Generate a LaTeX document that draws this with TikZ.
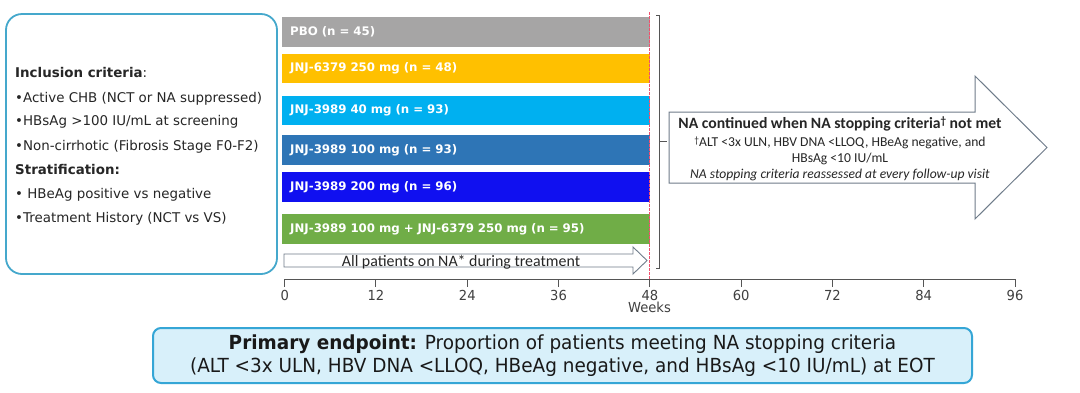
\documentclass[tikz,border=0pt]{standalone}
\usepackage{fontspec}
\setmainfont{DejaVu Sans}
\newfontfamily\verd{DejaVu Sans}
\newfontfamily\tah[FakeStretch=0.95]{DejaVu Sans}
\newfontfamily\calib{Carlito}
\definecolor{cgray}{HTML}{A6A5A5}
\definecolor{cyellow}{HTML}{FFC000}
\definecolor{clblue}{HTML}{00B0F0}
\definecolor{cmblue}{HTML}{2E75B6}
\definecolor{cblue}{HTML}{1010F0}
\definecolor{cgreen}{HTML}{70AD47}
\definecolor{boxline}{HTML}{45A8CC}
\definecolor{endfill}{HTML}{D8F0FA}
\definecolor{endline}{HTML}{35A6D6}
\definecolor{arrline}{HTML}{6F7C8A}
\definecolor{axisc}{HTML}{555555}
\definecolor{redd}{HTML}{F0506E}
\begin{document}
\begin{tikzpicture}[x=1pt,y=-1pt,
  bar/.style={anchor=north west, minimum height=29.5pt, text width=352pt, inner xsep=8pt, inner ysep=0pt, align=left, text=white, font=\verd\bfseries\fontsize{11.8}{13}\selectfont},
  crit/.style={anchor=base west, inner sep=0pt, font=\verd\fontsize{13.4}{15}\selectfont, text=black!85},
  tick/.style={anchor=base, inner sep=0pt, font=\tah\fontsize{13.8}{15}\selectfont, text=black!75},
  arrtxt/.style={anchor=base, inner sep=0pt, font=\calib\fontsize{13.6}{15}\selectfont, text=black!85},
  arrshape/.style={draw=arrline, line width=1pt, fill=white, line join=miter}
]
\useasboundingbox (0,0) rectangle (1080,392);
\fill[white] (0,0) rectangle (1080,392);

% left inclusion box
\draw[boxline, line width=1.8pt, rounded corners=16pt] (6,14) rectangle (277,274);
\node[crit, font=\verd\bfseries\fontsize{13.4}{15}\selectfont] (inc) at (15,77) {Inclusion criteria\mdseries:};
\node[crit] (c1) at (15,102) {•Active CHB (NCT or NA suppressed)};
\node[crit] (c2) at (15,125.5) {•HBsAg >100 IU/mL at screening};
\node[crit] (c3) at (15,150) {•Non-cirrhotic (Fibrosis Stage F0-F2)};
\node[crit, font=\verd\bfseries\fontsize{13.4}{15}\selectfont] (str) at (15,174) {Stratification:};
\node[crit] (s1) at (15,198) {• HBeAg positive vs negative};
\node[crit] (s2) at (15,222.5) {•Treatment History (NCT vs VS)};

% bars
\node[bar, fill=cgray] (pbo) at (282,17) {PBO (n = 45)};
\node[bar, fill=cyellow] (b6379) at (282,53.5) {JNJ-6379 250 mg (n = 48)};
\node[bar, fill=clblue] (b40) at (282,95.5) {JNJ-3989 40 mg (n = 93)};
\node[bar, fill=cmblue] (b100) at (282,135) {JNJ-3989 100 mg (n = 93)};
\node[bar, fill=cblue] (b200) at (282,172) {JNJ-3989 200 mg (n = 96)};
\node[bar, fill=cgreen] (bcombo) at (282,214) {JNJ-3989 100 mg + JNJ-6379 250 mg (n = 95)};

% small arrow: all patients on NA
\draw[arrshape, line width=0.9pt] (284,254) -- (633,254) -- (633,247) -- (647,260.5) -- (633,274) -- (633,267) -- (284,267) -- cycle;
\node[anchor=base, inner sep=0pt, font=\calib\fontsize{15.9}{17}\selectfont, text=black!85] (allna) at (461,266) {All patients on NA* during treatment};

% red dashed line at week 48
\draw[redd, line width=0.9pt, dash pattern=on 2.5pt off 1.5pt] (649.5,12) -- (649.5,286);

% bracket
\draw[axisc, line width=0.9pt] (656,15) -- (659.5,15) -- (659.5,268) -- (656,268);
\coordinate (brmid) at (659.5,141);

% big arrow
\draw[arrshape] (669,112) -- (975,112) -- (975,76) -- (1047,147.5) -- (975,219) -- (975,183) -- (669,183) -- cycle;
\coordinate (bigw) at (669,141);
\draw[axisc, line width=0.9pt] (brmid) -- ([xshift=-2.5pt]bigw);
\node[arrtxt, font=\calib\bfseries\fontsize{15.7}{17}\selectfont] (t1) at (840,128.5) {NA continued when NA stopping criteria{\fontsize{11}{12}\selectfont\raisebox{4pt}{†}} not met};
\node[arrtxt] (t2) at (840,146.5) {{\fontsize{9.5}{10}\selectfont\raisebox{3pt}{†}}ALT <3x ULN, HBV DNA <LLOQ, HBeAg negative, and};
\node[arrtxt] (t3) at (840,162.5) {HBsAg <10 IU/mL};
\node[arrtxt, font=\calib\itshape\fontsize{13.6}{15}\selectfont] (t4) at (840,178.5) {NA stopping criteria reassessed at every follow-up visit};

% axis
\draw[axisc, line width=1pt] (284.7,279) -- (1015,279);
\foreach \w [count=\i from 0] in {0,12,24,36,48,60,72,84,96} {
  \draw[axisc, line width=1pt] ({284.7+\i*91.29},279) -- ({284.7+\i*91.29},287);
  \node[tick] (lab\w) at ({284.7+\i*91.29},300) {\w};
}
\node[tick] (weeks) at (649.5,312.5) {Weeks};

% primary endpoint box
\node[draw=endline, fill=endfill, line width=2pt, rounded corners=8pt, minimum width=819pt, minimum height=55pt, inner sep=0pt, align=center, font=\tah\fontsize{19.4}{23}\selectfont, text=black!90] (pep) at (562.5,355.5)
{{\bfseries Primary endpoint:} Proportion of patients meeting NA stopping criteria\\(ALT <3x ULN, HBV DNA <LLOQ, HBeAg negative, and HBsAg <10 IU/mL) at EOT};
\end{tikzpicture}
\end{document}
